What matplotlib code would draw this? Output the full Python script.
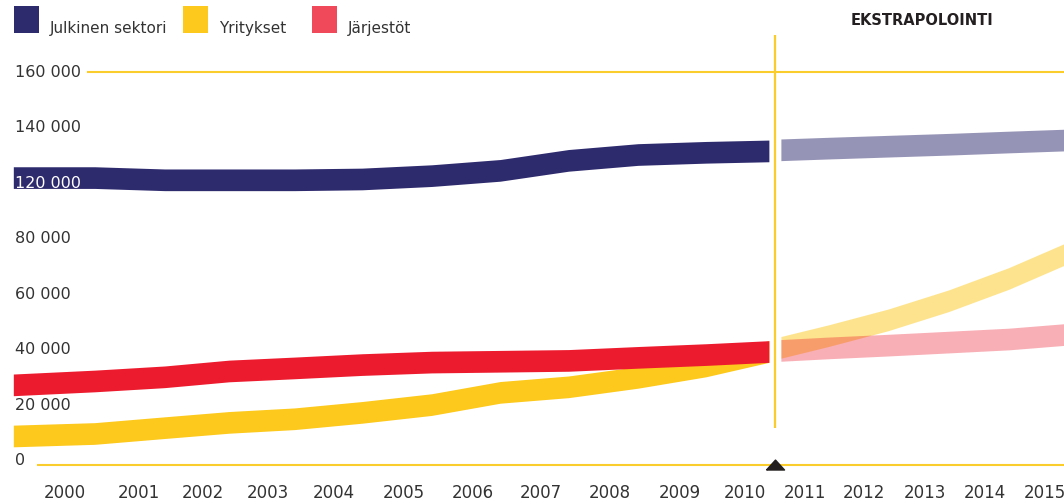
import matplotlib
matplotlib.use("Agg")
import numpy as np
import matplotlib.pyplot as plt
import matplotlib.transforms as mtransforms
from matplotlib.patches import Rectangle

# x positions of the data points (in years)
years = list(range(2000, 2016))
hist_x = [1999.3, 2000.4, 2001.4, 2002.4, 2003.4, 2004.4, 2005.4, 2006.4, 2007.4, 2008.4, 2009.4, 2010.4]
proj_x = [2010.6, 2011.4, 2012.4, 2013.4, 2014.4, 2015.32]

# history
julkinen = [102000, 102000, 101200, 101200, 101200, 101500, 102700, 104600, 108200, 110300, 111100, 111600]
yritykset = [9000, 9900, 12000, 13900, 15200, 17500, 20300, 24700, 26700, 30100, 34200, 39400]
jarjestot = [27400, 28800, 30300, 32400, 33500, 34700, 35600, 35900, 36200, 37300, 38300, 39400]

# extrapolation
julkinen_ext = [112000, 112600, 113300, 114000, 114800, 115500]
yritykset_ext = [40900, 45100, 50800, 57700, 65700, 74300]
jarjestot_ext = [39800, 40700, 41700, 42800, 43900, 45500]

y_ticks = [0, 20000, 40000, 60000, 80000, 100000, 120000, 140000]
y_labels = ['0', '20 000', '40 000', '60 000', '80 000', '120 000', '140 000', '160 000']

series_names = ['Julkinen sektori', 'Yritykset', 'Järjestöt']

NAVY = '#2e2a6e'
YELLOW = '#fdc91c'
RED = '#ed1b2e'
LEGEND_RED = '#f04a5a'
LINE_YELLOW = '#fbcd2c'
TEXT = '#333333'
HALF = 3900  # half thickness of the bands

# the original year axis is not evenly spaced: map years onto it piecewise
scale_years = [1999] + years + [2016]
scale_pos = [-9, 65, 139, 203, 268, 334, 404, 473, 541, 610, 680, 745,
             805, 864, 925, 985, 1045, 1105]


def fwd(x):
    return np.interp(x, scale_years, scale_pos)


def inv(p):
    return np.interp(p, scale_pos, scale_years)


plt.rcParams['font.family'] = 'DejaVu Sans'

W, H = 1064, 503
fig = plt.figure(figsize=(W / 100, H / 100), dpi=100)
ax = fig.add_axes([0, 0, 1, 1])
ax.set_xscale('function', functions=(fwd, inv))
ax.set_xlim(1999.12, 2015.32)
ax.set_ylim(-15116, 165913)
for s in ax.spines.values():
    s.set_visible(False)


def band(x, v, color, alpha=1.0, z=2):
    lo = [a - HALF for a in v]
    hi = [a + HALF for a in v]
    ax.fill_between(x, lo, hi, color=color, alpha=alpha, lw=0, zorder=z)


band(hist_x, julkinen, NAVY)
band(hist_x, yritykset, YELLOW)
band(hist_x, jarjestot, RED, z=3)

band(proj_x, julkinen_ext, NAVY, alpha=0.5)
band(proj_x, yritykset_ext, YELLOW, alpha=0.5)
band(proj_x, jarjestot_ext, RED, alpha=0.35, z=3)

# reference lines
ax.axhline(140000, xmin=0.0827, xmax=1, color=LINE_YELLOW, lw=1.5, zorder=1)
ax.axhline(-1400, xmin=0.0357, xmax=1, color=LINE_YELLOW, lw=1.5, zorder=1)
ax.vlines(2010.5, 11900, 153300, color=LINE_YELLOW, lw=1.6, zorder=4)
tri = [(-1, -0.5), (1, -0.5), (0, 0.6), (-1, -0.5)]
ax.plot([2010.5], [-1400], marker=tri, color='#231f20', markersize=13, zorder=5)

ax.text(2012.95, 158500, 'EKSTRAPOLOINTI', ha='center', va='center',
        fontsize=10.5, fontweight='bold', color='#231f20')

# y labels inside the plot
trans = mtransforms.blended_transform_factory(ax.transAxes, ax.transData)
for v, lab in zip(y_ticks, y_labels):
    col = 'white' if lab == '120 000' else TEXT
    ax.text(0.0141, v, lab, transform=trans, ha='left', va='center',
            fontsize=11.5, color=col, zorder=6)
ax.set_yticks([])

ax.set_xticks(years)
ax.set_xticklabels([str(y) for y in years])
ax.set_xticks([], minor=True)
ax.tick_params(axis='x', length=0, pad=-13.5, labelsize=12, labelcolor=TEXT)

# legend, drawn by hand
leg_x = [14, 183, 312]
for x0, name, col in zip(leg_x, series_names, [NAVY, YELLOW, LEGEND_RED]):
    fig.add_artist(Rectangle((x0 / W, 1 - 33 / H), 25 / W, 27 / H,
                             transform=fig.transFigure, color=col, lw=0))
    fig.text((x0 + 36) / W, 1 - 33 / H, name, ha='left', va='baseline',
             fontsize=11, color=TEXT)

fig.savefig('out.png', dpi=100)
